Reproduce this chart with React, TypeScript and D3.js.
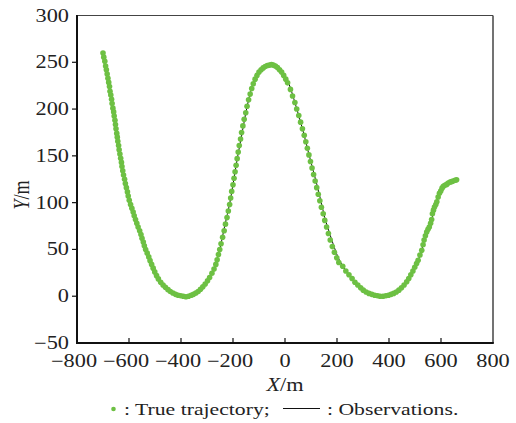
import React from "react";
import * as d3 from "d3";

const xTicks = [-800, -600, -400, -200, 0, 200, 400, 600, 800];
const yTicks = [-50, 0, 50, 100, 150, 200, 250, 300];

// True trajectory points [X (m), Y (m)]
const trueTrajectory: [number, number][] = [
  [-700, 260], [-697, 255.5], [-693, 251], [-690, 246], [-687, 242], [-684, 237.5], [-681, 233],
  [-678, 228.5], [-675, 224], [-673, 219], [-670, 215], [-667, 210.5], [-665, 206], [-662, 201],
  [-659, 197], [-657, 192.5], [-654, 188], [-652, 183.5], [-650, 179], [-647, 174], [-645, 170],
  [-643, 165.5], [-640, 161], [-638, 156.5], [-635, 152], [-632, 147.5], [-629, 143], [-627, 138.5],
  [-624, 134], [-621, 129.5], [-617, 125], [-614, 120.5], [-610, 116], [-606, 111.5], [-603, 107],
  [-599, 102.5],
  [-594, 98], [-589, 94], [-584, 90], [-580, 86], [-575, 82], [-570, 78], [-565, 74], [-559, 70],
  [-554, 66], [-550, 62], [-545, 58], [-541, 54], [-536, 50], [-530, 46], [-524, 42], [-519, 38],
  [-513, 34], [-507, 30], [-501, 26], [-494, 22], [-487, 18.5], [-478, 15], [-469, 12], [-460, 9.5],
  [-450, 7], [-441, 5], [-431, 3.5], [-421, 2], [-411, 1], [-401, 0.5], [-391, 0], [-381, -0.5], [-371, 0],
  [-361, 1], [-352, 2], [-343, 3.5], [-334, 5], [-325, 7.5], [-316, 10], [-307, 13], [-298, 16.5],
  [-290, 20], [-281, 24.5], [-273, 29], [-266, 34], [-261, 39], [-256, 44.5], [-251, 50],
  [-246, 56], [-240, 63], [-234, 70], [-229, 77], [-223, 84], [-218, 91], [-213, 98], [-209, 105],
  [-205, 112], [-200, 119], [-196, 126], [-192, 133], [-188, 140], [-184, 147], [-180, 154],
  [-176, 161], [-171, 168], [-167, 175], [-162, 182], [-157, 189], [-151, 196], [-146, 203],
  [-140, 210], [-134, 216], [-128, 222], [-122, 227],
  [-115, 232], [-108, 236], [-100, 239.5], [-92, 242], [-84, 244], [-76, 245.5], [-68, 246.5],
  [-60, 247], [-52, 247.5], [-45, 247], [-37, 246], [-29, 244.5], [-21, 242], [-13, 239.5],
  [-5, 236], [3, 232], [10, 228],
  [21, 221], [29, 214], [38, 207], [45, 200], [53, 193], [60, 186], [67, 179], [74, 172], [80, 165],
  [86, 158], [92, 151], [98, 144], [104, 137], [110, 130], [116, 123], [122, 116], [128, 109],
  [134, 102], [140, 95], [147, 88], [153, 81], [160, 74], [167, 67], [174, 60], [182, 53],
  [190, 47], [199, 41], [207, 36],
  [222, 32], [234, 27], [246, 23], [258, 19], [269, 15], [280, 12], [291, 9], [301, 6.5], [312, 4.5],
  [323, 3], [334, 2], [345, 1], [356, 0.5], [366, 0], [377, 0], [388, 0.5], [398, 1], [408, 2],
  [418, 3], [428, 4.5], [438, 6.5], [448, 9], [458, 12], [468, 15.5], [476, 19], [484, 23],
  [492, 27], [499, 31], [506, 35],
  [512, 38.4], [519, 44], [526, 49], [531, 55], [535, 60], [540, 64.5], [545, 68.6], [550, 71.5],
  [555, 74], [560, 78], [564, 82], [567, 88], [571, 92], [575, 95.3], [580, 98], [584, 101],
  [589, 106], [594, 110], [599, 112.4], [604, 115.5], [609, 117.4], [615, 118.5], [622, 119.5],
  [628, 121], [635, 122], [641, 122.5], [647, 123], [654, 124], [660, 124.5],
];

// Observations (black line) [X (m), Y (m)]
const observations: [number, number][] = [
  [-700, 258], [-690, 244], [-675, 222], [-661, 200], [-648, 175], [-634, 150], [-617, 125],
  [-596, 100], [-566, 75], [-536, 50], [-500, 25], [-470, 12], [-440, 5], [-410, 1], [-380, 0],
  [-350, 2], [-320, 8], [-290, 20], [-270, 32], [-251, 50], [-232, 75], [-212, 100], [-196, 126],
  [-183, 148], [-168, 170], [-154, 191], [-140, 210], [-123, 227], [-105, 239], [-85, 245],
  [-60, 247.5], [-40, 246], [-20, 242], [0, 235], [15, 227], [36, 209], [55, 191], [72, 174],
  [88, 156], [105, 138], [122, 120], [138, 102], [153, 84], [165, 73], [185, 56], [210, 38],
  [240, 25], [270, 14], [300, 6], [330, 2], [365, 0], [400, 1], [430, 4], [460, 12], [485, 22],
  [502, 31], [512, 38], [525, 49], [545, 68], [564, 82], [584, 101], [600, 113], [609, 117],
  [635, 122], [660, 124.5],
];

const W = 516;
const H = 423;
const M = { left: 77, top: 15.5, right: 493, bottom: 343 };
const GREEN = "#6dc043";
const FONT = '"Liberation Serif", Tinos, "Times New Roman", Times, "DejaVu Serif", serif';
const SX = 1.24;

function T(props: {
  x: number;
  y: number;
  anchor?: "start" | "middle" | "end";
  size?: number;
  rotate?: number;
  children: React.ReactNode;
}) {
  const { x, y, anchor = "start", size = 18, rotate = 0, children } = props;
  return (
    <text
      transform={`translate(${x},${y}) scale(${SX},1)${rotate ? ` rotate(${rotate})` : ""}`}
      textAnchor={anchor}
      fontSize={size}
      fill="#222"
      style={{ fontFamily: FONT }}
    >
      {children}
    </text>
  );
}

export default function App() {
  const x = d3.scaleLinear().domain([-800, 800]).range([M.left, M.right]);
  const y = d3.scaleLinear().domain([-50, 300]).range([M.bottom, M.top]);
  const line = d3
    .line<[number, number]>()
    .x((d) => x(d[0]))
    .y((d) => y(d[1]))
    .curve(d3.curveCatmullRom);
  const fmt = (t: number) => (t < 0 ? "\u2212" + Math.abs(t) : String(t));

  return (
    <svg
      width={W}
      height={H}
      style={{ position: "absolute", left: 0, top: 0, background: "#fff", fontFamily: FONT }}
    >
      {/* frame: top & right */}
      <line x1={M.left} x2={M.right} y1={M.top} y2={M.top} stroke="#444" strokeWidth={1.2} />
      <line x1={M.right} x2={M.right} y1={M.top} y2={M.bottom} stroke="#444" strokeWidth={1.5} />
      {/* axes: left & bottom */}
      <line x1={M.left} x2={M.left} y1={M.top - 0.6} y2={M.bottom + 1} stroke="#111" strokeWidth={2} />
      <line x1={M.left - 1} x2={M.right + 0.8} y1={M.bottom} y2={M.bottom} stroke="#111" strokeWidth={2} />

      {/* x ticks (inward) */}
      {xTicks.map((t) => (
        <g key={"xt" + t}>
          {t > -800 && t < 800 && (
            <line x1={x(t)} x2={x(t)} y1={M.bottom} y2={M.bottom - 5} stroke="#111" strokeWidth={1.2} />
          )}
          <T x={x(t) - (t < 0 ? 3 : 0)} y={366.5} anchor="middle">
            {fmt(t)}
          </T>
        </g>
      ))}

      {/* y ticks (outward) */}
      {yTicks.map((t) => (
        <g key={"yt" + t}>
          {t > -50 && t < 300 && (
            <line x1={M.left} x2={M.left - 5} y1={y(t)} y2={y(t)} stroke="#111" strokeWidth={1.2} />
          )}
          <T x={69} y={y(t) + 6} anchor="end">
            {fmt(t)}
          </T>
        </g>
      ))}

      {/* observations line */}
      <path d={line(observations) || ""} fill="none" stroke="#111" strokeWidth={1} />

      {/* true trajectory dots */}
      {trueTrajectory.map((d, i) => (
        <circle key={"p" + i} cx={x(d[0])} cy={y(d[1])} r={2.8} fill={GREEN} />
      ))}

      {/* axis labels */}
      <T x={285} y={391} anchor="middle">
        <tspan fontStyle="italic">X</tspan>/m
      </T>
      <T x={29} y={195} anchor="middle" rotate={-90}>
        <tspan fontStyle="italic">Y</tspan>/m
      </T>

      {/* legend */}
      <circle cx={113.5} cy={409} r={2.3} fill={GREEN} />
      <T x={124} y={415} size={17.5}>
        : True trajectory;
      </T>
      <line x1={283} x2={320} y1={408.5} y2={408.5} stroke="#111" strokeWidth={1} />
      <T x={327} y={415} size={17.5}>
        : Observations.
      </T>
    </svg>
  );
}
